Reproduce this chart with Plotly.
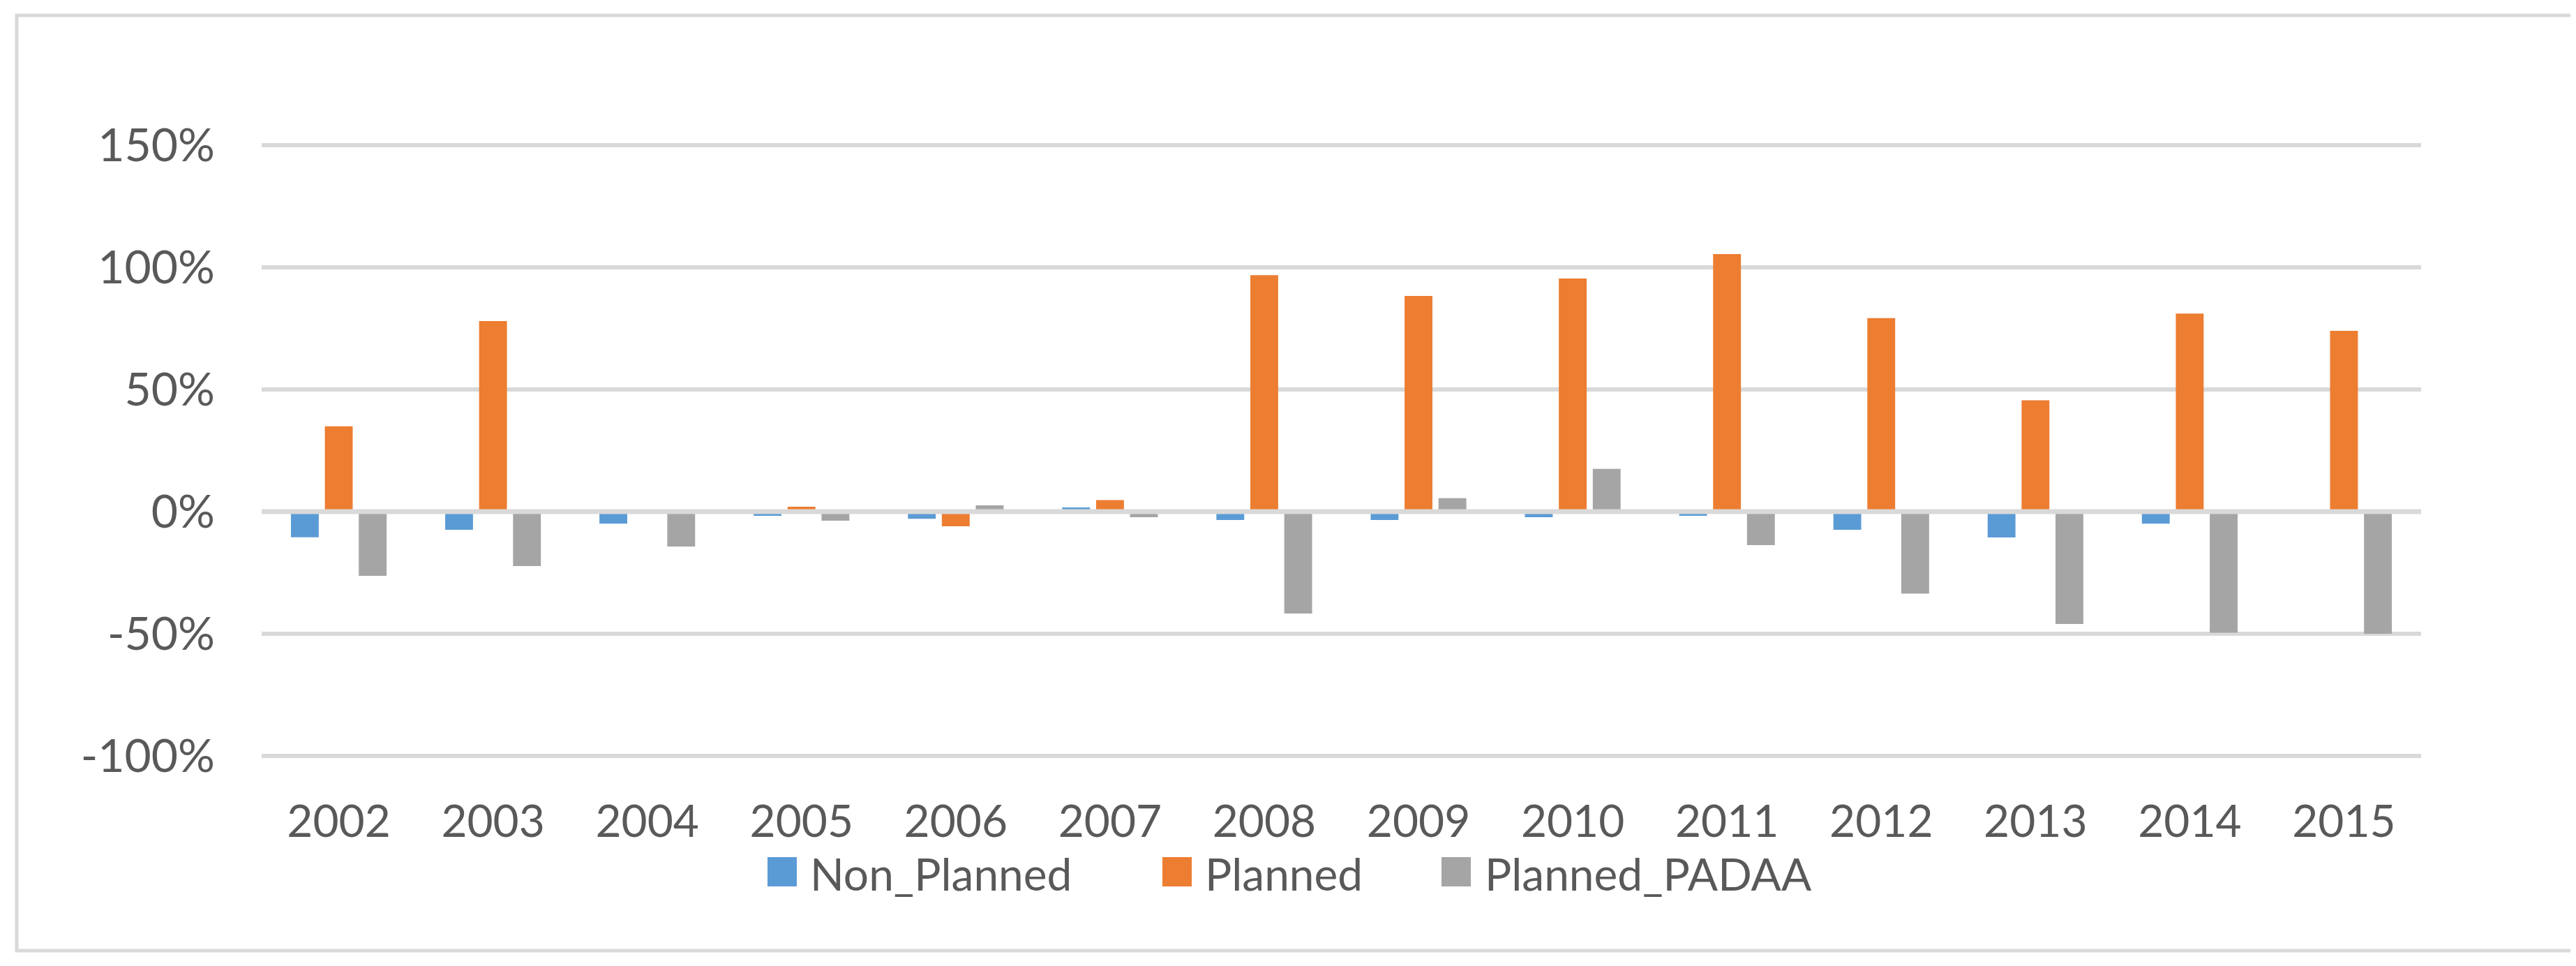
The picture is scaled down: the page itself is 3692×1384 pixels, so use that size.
import plotly.graph_objects as go

# ---------------- data ----------------
years = ["2002", "2003", "2004", "2005", "2006", "2007", "2008",
         "2009", "2010", "2011", "2012", "2013", "2014", "2015"]
non_planned = [-0.105, -0.074, -0.049, -0.017, -0.029, 0.017, -0.034,
               -0.034, -0.023, -0.017, -0.074, -0.106, -0.049, 0.0]
planned = [0.349, 0.780, 0.0, 0.020, -0.060, 0.047, 0.968,
           0.883, 0.954, 1.054, 0.792, 0.456, 0.811, 0.740]
planned_padaa = [-0.263, -0.223, -0.143, -0.037, 0.026, -0.023, -0.417,
                 0.055, 0.175, -0.137, -0.336, -0.460, -0.496, -0.500]
series_names = ["Non_Planned", "Planned", "Planned_PADAA"]
series_colors = ["#5B9BD5", "#ED7D31", "#A5A5A5"]
y_tickvals = [-1.0, -0.5, 0.0, 0.5, 1.0, 1.5]
y_ticktext = ["-100%", "-50%", "0%", "50%", "100%", "150%"]

# ---------------- layout constants (pixels) ----------------
OFF = 8                      # page body margin in the browser
W, H = 3692 - OFF, 1384 - OFF
ML, MR, MT, MB = 375 - OFF, 222, 201 - OFF, 294
PW, PH = W - ML - MR, H - MT - MB
FONT = "Lato, 'Open Sans', sans-serif"
TXT = "#595959"
GRID = "#D9D9D9"
FS = 66
FS_X = 64
FS_LEG = 64


def px_x(x):
    # x given in screen (reference) pixels
    return (x - OFF - ML) / PW


def px_y(y):
    return (H - MB - (y - OFF)) / PH


fig = go.Figure()
for name, vals, col in zip(series_names, [non_planned, planned, planned_padaa], series_colors):
    fig.add_trace(go.Bar(x=years, y=vals, name=name, marker_color=col,
                         marker_line_width=0, showlegend=False))

shapes = []
# outer chart frame
shapes.append(dict(type="rect", xref="paper", yref="paper",
                   x0=px_x(24), x1=px_x(3687), y0=px_y(1362), y1=px_y(22),
                   line=dict(color=GRID, width=5), layer="below"))
# horizontal axis line at zero
shapes.append(dict(type="line", xref="paper", yref="y", x0=0, x1=1, y0=0, y1=0,
                   line=dict(color=GRID, width=7), layer="above"))

# custom legend (swatches + labels)
annotations = []
sw_x = [1100, 1666, 2066]
txt_x = [1160, 1726, 2127]
for i, name in enumerate(series_names):
    shapes.append(dict(type="rect", xref="paper", yref="paper",
                       x0=px_x(sw_x[i]), x1=px_x(sw_x[i] + 42),
                       y0=px_y(1270), y1=px_y(1228),
                       fillcolor=series_colors[i], line=dict(width=0)))
    annotations.append(dict(xref="paper", yref="paper", x=px_x(txt_x[i]), y=px_y(1251),
                            xanchor="left", yanchor="middle", showarrow=False,
                            borderpad=0,
                            text=name, font=dict(family=FONT, size=FS_LEG, color=TXT)))

fig.update_layout(
    width=W, height=H,
    margin=dict(l=ML, r=MR, t=MT, b=MB, pad=0),
    paper_bgcolor="white", plot_bgcolor="white",
    barmode="group", bargap=0.34, bargroupgap=0.18,
    font=dict(family=FONT, size=FS, color=TXT),
    shapes=shapes, annotations=annotations,
    showlegend=False,
    xaxis=dict(type="category", showgrid=False, showline=False, zeroline=False,
               ticks="", tickfont=dict(family=FONT, size=FS_X, color=TXT),
               ticklabelstandoff=44),
    yaxis=dict(range=[-1.02, 1.52], tickvals=y_tickvals, ticktext=y_ticktext,
               showgrid=True, gridcolor=GRID, gridwidth=6, zeroline=False,
               showline=False, ticks="", tickfont=dict(family=FONT, size=FS, color=TXT),
               ticklabelstandoff=66),
)

fig.write_html("out.html")
